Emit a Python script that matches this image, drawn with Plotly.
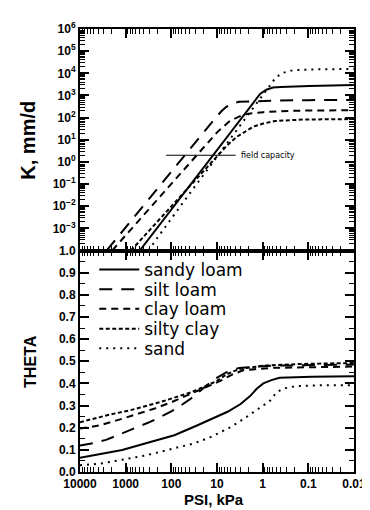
import math
import plotly.graph_objects as go
from plotly.subplots import make_subplots

# ---------------- data ----------------
# Top panel: hydraulic conductivity K (mm/d) versus matric potential PSI (kPa)
k_psi_sandy_loam = [490, 100, 21.7, 5, 1.7, 1.14, 0.834, 0.591, 0.399, 0.2, 0.096, 0.01]
k_sandy_loam = [1e-4, 0.0071, 0.40, 22, 398, 1166, 1810, 2270, 2390, 2550, 2640, 2930]

k_psi_silt_loam = [2600, 1288, 57.3, 20, 10.2, 8.0, 6.27, 4.67, 3.30, 1.58, 0.59, 0.1, 0.01]
k_silt_loam = [1e-4, 5.9e-4, 1.51, 20.6, 111, 194, 308, 441, 514, 541, 587, 615, 630]

k_psi_clay_loam = [1970, 855, 42.7, 9.75, 5.41, 3.30, 2.02, 0.967, 0.221, 0.01]
k_clay_loam = [1e-4, 7e-4, 0.736, 22.7, 66, 111, 151, 176, 205, 215]

k_psi_silty_clay = [764, 294, 18.5, 6.27, 3.83, 2.59, 1.58, 0.967, 0.536, 0.135, 0.01]
k_silty_clay = [1e-4, 8.6e-4, 0.44, 5.1, 12.9, 21.5, 39.8, 54, 70, 81.5, 86]

k_psi_sand = [314, 216, 35.5, 4.23, 0.877, 0.653, 0.511, 0.361, 0.221, 0.083, 0.01]
k_sand = [1e-4, 3.1e-4, 0.051, 19.5, 1600, 3250, 6600, 10500, 13600, 15000, 15800]

# field capacity marker (K = 2 mm/d)
fc_psi = [130, 3.9]
fc_k = [2, 2]
fc_label = "field capacity"
fc_label_psi = 3.3

# Bottom panel: water content THETA versus PSI (kPa)
t_psi_sandy_loam = [10000, 3740, 1190, 377, 86, 27.4, 11.3, 5.88, 3.04, 1.86, 1.35, 0.967, 0.643, 0.425, 0.083, 0.01]
t_sandy_loam = [0.064, 0.08, 0.099, 0.129, 0.166, 0.21, 0.247, 0.272, 0.307, 0.344, 0.376, 0.40, 0.415, 0.425, 0.43, 0.432]

t_psi_silt_loam = [10000, 5200, 2690, 1150, 300, 108, 73.2, 38.1, 23.3, 11.3, 6.27, 3.30, 0.653, 0.056, 0.01]
t_silt_loam = [0.12, 0.13, 0.145, 0.177, 0.225, 0.27, 0.29, 0.33, 0.365, 0.42, 0.45, 0.47, 0.48, 0.484, 0.485]

t_psi_clay_loam = [10000, 3740, 1006, 230, 102, 27.4, 8.7, 4.67, 2.59, 0.653, 0.056, 0.01]
t_clay_loam = [0.196, 0.21, 0.245, 0.287, 0.314, 0.366, 0.41, 0.44, 0.46, 0.47, 0.475, 0.476]

t_psi_silty_clay = [10000, 1950, 855, 166, 38.1, 10.2, 6.27, 3.30, 0.967, 0.135, 0.01]
t_silty_clay = [0.225, 0.262, 0.277, 0.317, 0.359, 0.41, 0.44, 0.465, 0.48, 0.488, 0.492]

t_psi_sand = [10000, 3740, 1400, 377, 86, 32.2, 14.3, 9.6, 4.98, 2.59, 1.35, 0.697, 0.502, 0.361, 0.188, 0.070, 0.01]
t_sand = [0.031, 0.037, 0.053, 0.074, 0.107, 0.129, 0.156, 0.173, 0.203, 0.24, 0.281, 0.321, 0.359, 0.376, 0.388, 0.391, 0.392]

soil_names = ["sandy loam", "silt loam", "clay loam", "silty clay", "sand"]

# axis ticks / labels
x_tickvals = [10000, 1000, 100, 10, 1, 0.1, 0.01]
x_ticktext = ["10000", "1000", "100", "10", "1", "0.1", "0.01"]
k_tickvals = [1e-3, 1e-2, 1e-1, 1, 10, 100, 1e3, 1e4, 1e5, 1e6]
k_ticktext = ["10<sup>\u22123</sup>", "10<sup>\u22122</sup>", "10<sup>\u22121</sup>", "10<sup>0</sup>",
              "10<sup>1</sup>", "10<sup>2</sup>", "10<sup>3</sup>", "10<sup>4</sup>",
              "10<sup>5</sup>", "10<sup>6</sup>"]
theta_tickvals = [0.0, 0.1, 0.2, 0.3, 0.4, 0.5, 0.6, 0.7, 0.8, 0.9, 1.0]
theta_ticktext = ["0.0", "0.1", "0.2", "0.3", "0.4", "0.5", "0.6", "0.7", "0.8", "0.9", "1.0"]

# ---------------- styles ----------------
dashes = ["solid", "13px,9px", "7px,5px", "4px,2.5px", "2px,5px"]
LW = 2
legend_ids = ["legend", "legend2", "legend3", "legend4", "legend5"]

fig = make_subplots(rows=2, cols=1, shared_xaxes=True, vertical_spacing=0)

k_sets = [(k_psi_sandy_loam, k_sandy_loam), (k_psi_silt_loam, k_silt_loam),
          (k_psi_clay_loam, k_clay_loam), (k_psi_silty_clay, k_silty_clay),
          (k_psi_sand, k_sand)]
t_sets = [(t_psi_sandy_loam, t_sandy_loam), (t_psi_silt_loam, t_silt_loam),
          (t_psi_clay_loam, t_clay_loam), (t_psi_silty_clay, t_silty_clay),
          (t_psi_sand, t_sand)]

for name, dash, (px, py) in zip(soil_names, dashes, k_sets):
    fig.add_trace(go.Scatter(x=px, y=py, mode="lines", name=name, showlegend=False,
                             line=dict(color="black", width=LW, dash=dash)), row=1, col=1)

fig.add_trace(go.Scatter(x=fc_psi, y=fc_k, mode="lines", showlegend=False,
                         line=dict(color="black", width=1.2)), row=1, col=1)

for name, dash, lid, (px, py) in zip(soil_names, dashes, legend_ids, t_sets):
    fig.add_trace(go.Scatter(x=px, y=py, mode="lines", name=name, showlegend=True,
                             legend=lid,
                             line=dict(color="black", width=LW, dash=dash)), row=2, col=1)

fig.add_annotation(x=math.log10(fc_label_psi), y=math.log10(fc_k[0]), xref="x", yref="y",
                   text=fc_label, showarrow=False, xanchor="left", yanchor="middle",
                   font=dict(family="DejaVu Sans", size=8, color="black"))

tickfont = dict(family="Liberation Sans", size=12, color="black", weight="bold")

x_minor = [m * 10 ** e for e in range(-2, 4) for m in range(2, 10)]
k_minor = [m * 10 ** e for e in range(-4, 6) for m in range(2, 10)]

common_x = dict(type="log", range=[4, -2], showline=True, linewidth=2, linecolor="black",
                mirror="allticks", ticks="inside", ticklen=9, tickwidth=1.5, tickcolor="black",
                tickmode="array", tickvals=x_tickvals, ticktext=x_ticktext,
                minor=dict(tickmode="array", tickvals=x_minor, ticks="inside", ticklen=5,
                           tickwidth=1, tickcolor="black", showgrid=False),
                showgrid=False, zeroline=False, tickfont=tickfont)

fig.update_xaxes(**common_x)
fig.update_xaxes(showticklabels=False, row=1, col=1)
fig.update_xaxes(showticklabels=True, ticklabelstandoff=0, row=2, col=1)

fig.update_yaxes(type="log", range=[-4, 6], showline=True, linewidth=2, linecolor="black",
                 mirror="allticks", ticks="inside", ticklen=9, tickwidth=1.5, tickcolor="black",
                 tickmode="array", tickvals=k_tickvals, ticktext=k_ticktext,
                 minor=dict(tickmode="array", tickvals=k_minor, ticks="inside", ticklen=5,
                            tickwidth=1, tickcolor="black", showgrid=False),
                 showgrid=False, zeroline=False, tickfont=tickfont, row=1, col=1)

fig.update_yaxes(range=[0, 1], showline=True, linewidth=2, linecolor="black",
                 mirror="allticks", ticks="inside", ticklen=9, tickwidth=1.5, tickcolor="black",
                 tickmode="array", tickvals=theta_tickvals, ticktext=theta_ticktext,
                 minor=dict(dtick=0.05, ticks="inside", ticklen=5, tickwidth=1,
                            tickcolor="black", showgrid=False),
                 showgrid=False, zeroline=False, tickfont=tickfont, row=2, col=1)

fig.add_annotation(text="K, mm/d", xref="paper", yref="paper", x=-0.19, y=0.75,
                   textangle=-90, showarrow=False, xanchor="center", yanchor="middle",
                   font=dict(family="Liberation Sans", size=20, color="black", weight="bold"))
fig.add_annotation(text="THETA", xref="paper", yref="paper", x=-0.18, y=0.25,
                   textangle=-90, showarrow=False, xanchor="center", yanchor="middle",
                   font=dict(family="Liberation Sans", size=16, color="black", weight="bold"))
fig.add_annotation(text="PSI, kPa", xref="paper", yref="paper", x=0.49, y=-0.062,
                   showarrow=False, xanchor="center", yanchor="middle",
                   font=dict(family="Liberation Sans", size=15, color="black", weight="bold"))

# one legend per soil so the rows sit 20 px apart as in the original
legend_row_top = [0.497, 0.452, 0.408, 0.363, 0.319]
legend_layout = {}
for lid, ly in zip(legend_ids, legend_row_top):
    legend_layout[lid] = dict(x=0.052, y=ly, xanchor="left", yanchor="top",
                              bgcolor="rgba(0,0,0,0)", borderwidth=0, itemwidth=40,
                              font=dict(family="DejaVu Sans", size=17, color="black"))

fig.update_layout(
    width=370, height=510,
    margin=dict(l=72, r=17, t=14, b=46),
    paper_bgcolor="white", plot_bgcolor="white",
    showlegend=True,
    **legend_layout,
)

fig.write_html("out.html")
